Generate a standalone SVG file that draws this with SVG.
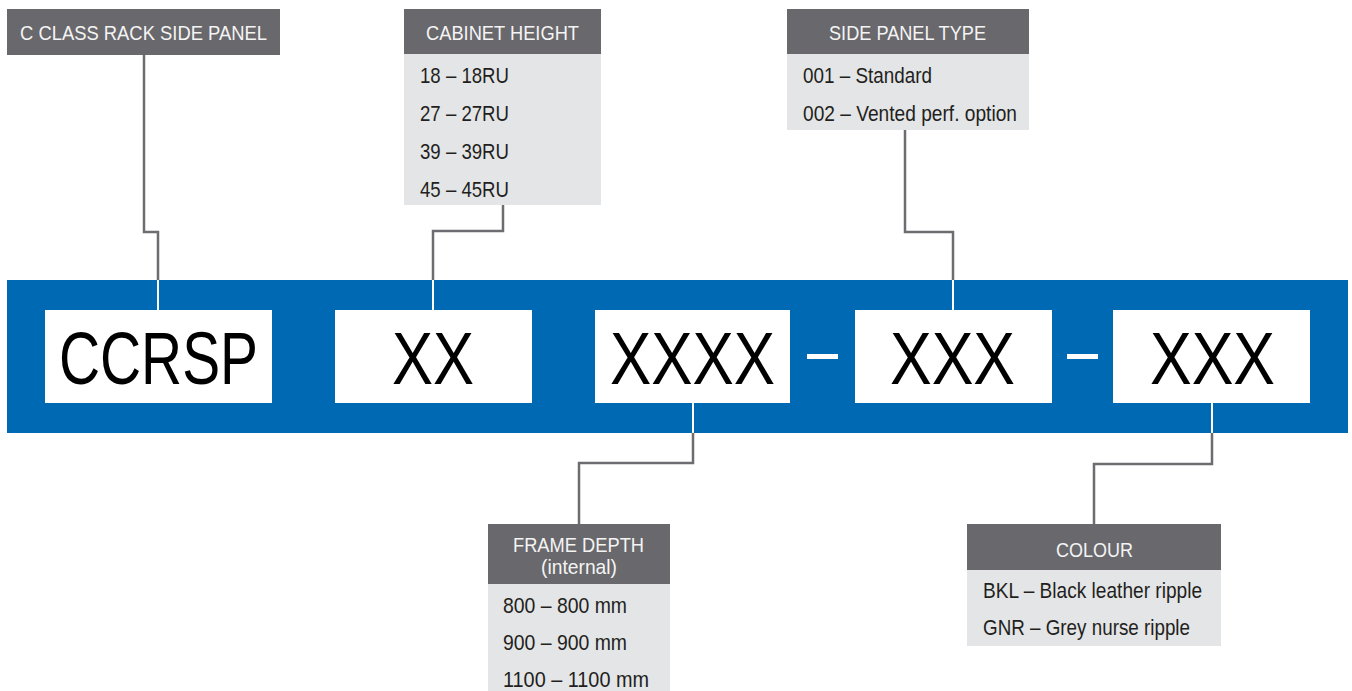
<svg xmlns="http://www.w3.org/2000/svg" width="1352" height="691" viewBox="0 0 1352 691">
<style>
.hdr{fill:#69686c}
.itm{fill:#e4e5e7}
.ht{font-family:"Liberation Sans",Arial,sans-serif;font-size:21px;fill:#f4f4f4}
.it{font-family:"Liberation Sans",Arial,sans-serif;font-size:22.5px;fill:#231f20}
.big{font-family:"Liberation Sans",Arial,sans-serif;font-size:75px;fill:#000}
.conn{fill:none;stroke:#6d6c70;stroke-width:2.5}
.wl{fill:none;stroke:#ffffff;stroke-width:2}
</style>
<rect width="1352" height="691" fill="#ffffff"/>
<g id="bar">
<rect x="7" y="280" width="1341" height="153" fill="#0069b4"/>
<rect x="807" y="354" width="31" height="5" fill="#ffffff"/>
<rect x="1067" y="354" width="31" height="5" fill="#ffffff"/>
</g>
<g id="connectors">
<path class="conn" d="M144,55 V232 H158 V280"/>
<path class="conn" d="M503,205 V231 H433 V280"/>
<path class="conn" d="M905,130 V232 H953 V280"/>
<path class="conn" d="M693,433 V463 H579 V524"/>
<path class="conn" d="M1212,433 V464 H1094 V524"/>
<path class="wl" d="M158,280 V310 M433,280 V310 M953,280 V310 M693,403 V433 M1212,403 V433"/>
</g>
<g id="seg-ccrsp">
<rect x="45" y="310" width="227" height="93" fill="#ffffff"/>
<text class="big" x="59" y="384" textLength="199" lengthAdjust="spacingAndGlyphs">CCRSP</text>
</g>
<g id="seg-height">
<rect x="335" y="310" width="197" height="93" fill="#ffffff"/>
<text class="big" x="392" y="384" textLength="82" lengthAdjust="spacingAndGlyphs">XX</text>
</g>
<g id="seg-depth">
<rect x="595" y="310" width="195" height="93" fill="#ffffff"/>
<text class="big" x="610" y="384" textLength="165" lengthAdjust="spacingAndGlyphs">XXXX</text>
</g>
<g id="seg-type">
<rect x="855" y="310" width="197" height="93" fill="#ffffff"/>
<text class="big" x="890" y="384" textLength="125" lengthAdjust="spacingAndGlyphs">XXX</text>
</g>
<g id="seg-colour">
<rect x="1113" y="310" width="197" height="93" fill="#ffffff"/>
<text class="big" x="1150" y="384" textLength="125" lengthAdjust="spacingAndGlyphs">XXX</text>
</g>
<g id="label-product">
<rect class="hdr" x="7" y="9" width="273" height="46"/>
<text class="ht" x="20" y="40" textLength="247" lengthAdjust="spacingAndGlyphs">C CLASS RACK SIDE PANEL</text>
</g>
<g id="label-height">
<rect class="hdr" x="404" y="9" width="197" height="45"/>
<rect class="itm" x="404" y="54" width="197" height="151"/>
<text class="ht" x="426" y="39.5" textLength="153" lengthAdjust="spacingAndGlyphs">CABINET HEIGHT</text>
<text class="it" x="420" y="83" textLength="89" lengthAdjust="spacingAndGlyphs">18 – 18RU</text>
<text class="it" x="420" y="121" textLength="89" lengthAdjust="spacingAndGlyphs">27 – 27RU</text>
<text class="it" x="420" y="159" textLength="89" lengthAdjust="spacingAndGlyphs">39 – 39RU</text>
<text class="it" x="420" y="196.5" textLength="89" lengthAdjust="spacingAndGlyphs">45 – 45RU</text>
</g>
<g id="label-type">
<rect class="hdr" x="787" y="9" width="242" height="45"/>
<rect class="itm" x="787" y="54" width="242" height="76"/>
<text class="ht" x="829" y="40" textLength="157" lengthAdjust="spacingAndGlyphs">SIDE PANEL TYPE</text>
<text class="it" x="803" y="83" textLength="129" lengthAdjust="spacingAndGlyphs">001 – Standard</text>
<text class="it" x="803" y="121" textLength="214" lengthAdjust="spacingAndGlyphs">002 – Vented perf. option</text>
</g>
<g id="label-depth">
<rect class="hdr" x="488" y="524" width="182" height="60"/>
<rect class="itm" x="488" y="584" width="182" height="107"/>
<text class="ht" x="513" y="552" textLength="131" lengthAdjust="spacingAndGlyphs">FRAME DEPTH</text>
<text class="ht" x="541" y="574" textLength="76" lengthAdjust="spacingAndGlyphs">(internal)</text>
<text class="it" x="503" y="613" textLength="124" lengthAdjust="spacingAndGlyphs">800 – 800 mm</text>
<text class="it" x="503" y="650" textLength="124" lengthAdjust="spacingAndGlyphs">900 – 900 mm</text>
<text class="it" x="503" y="687" textLength="146" lengthAdjust="spacingAndGlyphs">1100 – 1100 mm</text>
</g>
<g id="label-colour">
<rect class="hdr" x="967" y="524" width="254" height="46"/>
<rect class="itm" x="967" y="570" width="254" height="76"/>
<text class="ht" x="1056" y="557" textLength="77" lengthAdjust="spacingAndGlyphs">COLOUR</text>
<text class="it" x="983" y="598" textLength="219" lengthAdjust="spacingAndGlyphs">BKL – Black leather ripple</text>
<text class="it" x="983" y="635" textLength="207" lengthAdjust="spacingAndGlyphs">GNR – Grey nurse ripple</text>
</g>
</svg>
